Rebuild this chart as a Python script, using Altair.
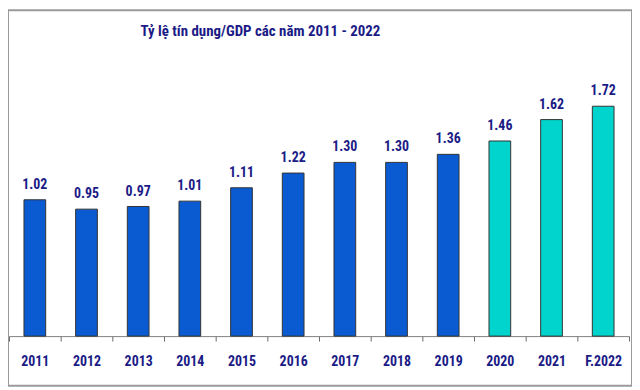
import altair as alt
import pandas as pd

years = ["2011", "2012", "2013", "2014", "2015", "2016", "2017", "2018", "2019", "2020", "2021", "F.2022"]
values = [1.02, 0.95, 0.97, 1.01, 1.11, 1.22, 1.30, 1.30, 1.36, 1.46, 1.62, 1.72]
groups = ["a"] * 9 + ["b"] * 3
title_text = "Tỷ lệ tín dụng/GDP các năm 2011 - 2022"

df = pd.DataFrame({"year": years, "value": values, "grp": groups,
                   "label": [f"{v:.2f}" for v in values]})

FONT = "Roboto Condensed, DejaVu Sans Condensed, Liberation Sans"
NAVY = "#1b1b86"
W, H = 628, 378
PPU = 134.5
zero_px = 328
dom = [-(H - zero_px) / PPU, zero_px / PPU]

x = alt.X("year:N", sort=years, title=None,
          scale=alt.Scale(range=[1, 625], paddingInner=0, paddingOuter=0),
          axis=alt.Axis(orient="bottom", offset=-(H - zero_px), labelAngle=0,
                        labelFont=FONT, labelFontWeight="bold", labelFontSize=14,
                        labelColor=NAVY, labelPadding=14, tickBand="extent",
                        ticks=True, tickSize=5, tickWidth=1, tickColor="#6a6a6a",
                        domainColor="#808080", domainWidth=1, grid=False))
y = alt.Y("value:Q", axis=None, scale=alt.Scale(domain=dom, nice=False, zero=False))

base = alt.Chart(df)
bars = base.mark_bar(stroke="#333333", strokeWidth=1,
                     width=alt.RelativeBandSize(0.42)).encode(
    x=x, y=y, y2=alt.datum(0),
    color=alt.Color("grp:N", legend=None,
                    scale=alt.Scale(domain=["a", "b"], range=["#0a5ad2", "#00d4cc"])))
labels = base.mark_text(font=FONT, fontWeight="bold", fontSize=14, color=NAVY,
                        baseline="bottom", dy=-8).encode(x=x, y=y, text="label:N")
title = alt.Chart(pd.DataFrame({"t": [title_text]})).mark_text(
    font=FONT, fontWeight="bold", fontSize=15, color=NAVY, align="center",
    baseline="middle").encode(x=alt.value(254), y=alt.value(21), text="t:N")

chart = alt.layer(bars, labels, title).properties(
    width=W, height=H,
    padding={"left": 0, "top": 1, "right": 0, "bottom": 0}
).configure_view(stroke="#9a9a9a", strokeWidth=2)

chart.save("out.html", embed_options={"renderer": "svg", "actions": False})
